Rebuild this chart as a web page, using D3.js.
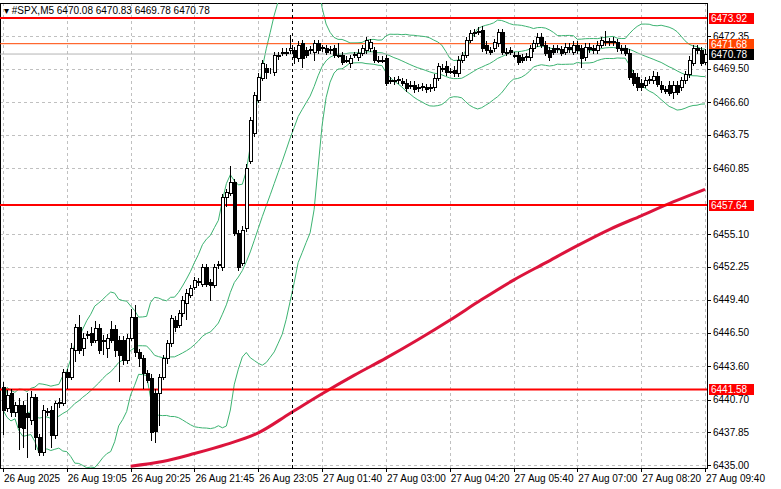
<!DOCTYPE html>
<html>
<head>
<meta charset="utf-8">
<script src="https://cdn.jsdelivr.net/npm/d3@7"></script>
<style>
  body { margin: 0; background: #fff; }
  svg { display: block; font-family: "Liberation Sans", Arial, sans-serif; }
</style>
</head>
<body>
<svg id="chart" width="781" height="489"></svg>
<script>
// OHLC candles, M5
const candles = [
  [6441.8,6442.2,6437.6,6439.8],[6440.0,6441.5,6439.6,6441.1],[6441.3,6441.6,6439.2,6439.6],[6439.6,6440.5,6439.2,6440.2],
  [6440.2,6440.8,6436.3,6438.3],[6440.2,6440.6,6436.5,6438.2],[6439.5,6441.3,6435.6,6439.2],[6438.9,6441.4,6438.5,6440.9],
  [6440.9,6441.2,6436.3,6437.4],[6437.4,6437.7,6435.8,6436.1],[6436.1,6440.2,6435.8,6439.8],[6439.7,6440.0,6439.3,6439.6],
  [6439.8,6440.1,6436.5,6437.6],[6437.6,6440.6,6437.3,6440.4],[6440.4,6440.8,6440.0,6440.5],[6440.4,6443.4,6440.1,6443.1],
  [6443.1,6443.4,6441.6,6442.7],[6442.7,6445.6,6442.4,6445.2],[6445.0,6447.3,6444.0,6447.0],[6447.0,6448.1,6444.7,6445.0],
  [6445.2,6446.5,6444.5,6446.1],[6446.3,6446.7,6446.0,6446.4],[6446.5,6447.0,6445.4,6445.7],[6445.9,6447.5,6445.6,6446.9],
  [6446.9,6447.3,6444.7,6445.0],[6445.9,6446.3,6444.6,6445.8],[6445.2,6446.4,6444.3,6446.1],[6446.8,6447.5,6445.6,6445.9],
  [6446.8,6447.2,6444.4,6445.0],[6445.9,6446.2,6442.2,6444.6],[6445.9,6446.2,6443.7,6444.1],[6444.1,6446.4,6443.8,6446.1],
  [6446.1,6448.6,6445.8,6447.9],[6447.9,6448.9,6444.4,6444.8],[6444.8,6445.1,6443.5,6444.3],[6444.3,6444.6,6441.6,6443.0],
  [6443.0,6443.3,6442.1,6442.4],[6442.6,6442.9,6437.1,6437.9],[6441.3,6441.6,6436.9,6438.0],[6441.3,6442.9,6438.4,6442.7],
  [6442.7,6444.6,6442.4,6444.3],[6444.3,6445.9,6443.8,6445.6],[6445.6,6448.1,6445.3,6447.8],[6447.6,6448.0,6446.6,6447.0],
  [6447.2,6448.5,6446.9,6448.2],[6448.2,6449.7,6447.9,6449.4],[6449.1,6450.3,6447.6,6450.0],[6449.8,6450.7,6449.5,6450.4],
  [6450.5,6451.4,6450.2,6451.1],[6450.9,6451.3,6450.6,6451.0],[6450.8,6452.5,6450.5,6452.2],[6452.2,6452.5,6450.5,6450.8],
  [6450.9,6451.2,6449.3,6450.7],[6450.7,6452.5,6450.4,6452.2],[6452.4,6452.8,6452.1,6452.5],[6452.2,6458.6,6451.9,6458.3],
  [6458.3,6459.0,6457.5,6458.8],[6458.7,6461.0,6458.4,6459.6],[6459.6,6459.9,6454.9,6455.2],[6455.2,6455.5,6451.9,6452.2],
  [6452.6,6455.8,6452.3,6455.5],[6455.6,6461.2,6455.3,6460.9],[6461.5,6465.3,6461.2,6465.0],[6463.9,6467.5,6463.6,6467.2],
  [6466.8,6469.1,6466.5,6468.8],[6468.7,6470.3,6468.4,6470.0],[6469.6,6469.9,6468.6,6469.2],[6469.3,6469.6,6469.0,6469.3],
  [6469.2,6471.0,6468.9,6470.7],[6470.6,6471.0,6470.3,6470.7],[6470.9,6471.3,6470.6,6471.0],[6470.9,6471.3,6470.6,6471.0],
  [6471.1,6472.4,6470.8,6471.3],[6471.1,6471.4,6469.9,6470.5],[6470.4,6471.9,6470.1,6471.6],[6471.7,6472.0,6469.6,6470.4],
  [6471.1,6471.4,6470.4,6470.7],[6471.1,6471.5,6470.8,6471.2],[6471.0,6472.0,6470.2,6471.7],[6471.7,6472.0,6470.8,6471.1],
  [6471.3,6471.6,6471.0,6471.4],[6471.3,6471.6,6470.7,6471.0],[6471.1,6471.5,6470.8,6471.2],[6471.3,6471.6,6470.4,6470.7],
  [6470.7,6471.7,6470.4,6470.6],[6470.7,6471.0,6469.8,6470.1],[6470.3,6470.6,6470.0,6470.2],[6470.0,6470.7,6469.6,6470.4],
  [6470.7,6471.0,6470.4,6470.8],[6470.5,6471.2,6470.2,6470.9],[6470.9,6471.6,6470.6,6471.3],[6471.1,6472.3,6470.8,6472.0],
  [6471.3,6472.1,6471.0,6471.8],[6471.1,6471.4,6470.0,6470.3],[6470.3,6470.6,6470.0,6470.2],[6470.3,6470.6,6470.0,6470.2],
  [6470.4,6470.7,6468.0,6468.3],[6468.5,6468.8,6468.2,6468.4],[6468.4,6468.8,6468.1,6468.5],[6468.5,6468.9,6468.2,6468.6],
  [6468.4,6468.7,6468.0,6468.3],[6468.3,6468.6,6467.5,6467.8],[6468.1,6468.4,6467.7,6468.0],[6468.1,6468.4,6467.4,6467.7],
  [6467.9,6468.2,6467.5,6467.8],[6467.9,6468.3,6467.6,6468.0],[6467.9,6468.2,6467.4,6467.7],[6467.8,6468.2,6467.5,6467.9],
  [6467.9,6469.0,6467.6,6468.7],[6468.7,6470.0,6468.4,6469.7],[6469.6,6469.9,6469.2,6469.5],[6469.7,6470.2,6468.9,6469.2],
  [6469.3,6469.6,6469.0,6469.2],[6469.4,6469.7,6468.8,6469.1],[6469.1,6470.6,6468.8,6470.3],[6470.3,6471.0,6470.0,6470.7],
  [6470.7,6472.3,6470.4,6472.0],[6472.0,6472.9,6471.7,6472.6],[6472.6,6473.0,6472.3,6472.7],[6472.7,6473.1,6472.4,6472.8],
  [6472.9,6473.2,6471.0,6471.3],[6471.6,6471.9,6470.8,6471.1],[6471.1,6471.4,6470.7,6471.0],[6471.3,6472.1,6471.0,6471.8],
  [6471.7,6473.0,6471.4,6472.7],[6472.7,6473.0,6470.7,6471.0],[6471.0,6471.3,6470.6,6470.9],[6471.1,6471.4,6470.7,6471.0],
  [6470.7,6471.0,6470.4,6470.6],[6470.7,6471.0,6469.8,6470.1],[6470.5,6470.8,6470.0,6470.3],[6470.5,6470.9,6470.2,6470.6],
  [6470.5,6471.6,6470.2,6471.3],[6471.3,6472.0,6471.0,6471.7],[6471.7,6472.6,6471.4,6472.3],[6472.3,6472.6,6471.3,6471.6],
  [6471.6,6471.9,6470.6,6470.9],[6471.1,6471.4,6470.2,6470.5],[6471.3,6471.6,6470.7,6471.0],[6471.3,6471.6,6470.9,6471.2],
  [6471.2,6471.5,6470.6,6470.9],[6471.0,6471.7,6470.7,6471.4],[6471.4,6471.7,6470.9,6471.2],[6471.0,6471.9,6470.7,6471.6],
  [6471.6,6471.9,6470.8,6471.1],[6471.3,6471.6,6469.6,6470.4],[6470.5,6471.7,6470.2,6471.4],[6471.4,6471.7,6470.9,6471.2],
  [6471.3,6471.6,6470.8,6471.1],[6471.1,6471.9,6470.8,6471.6],[6471.6,6472.3,6471.3,6472.0],[6471.8,6472.8,6471.5,6471.9],
  [6471.9,6472.2,6471.5,6471.8],[6471.8,6472.3,6471.5,6471.9],[6471.8,6472.1,6471.0,6471.3],[6471.3,6471.6,6470.8,6471.1],
  [6471.3,6471.6,6470.6,6470.9],[6470.9,6471.2,6468.5,6468.8],[6469.1,6469.4,6468.0,6468.3],[6468.8,6469.1,6467.6,6467.9],
  [6468.3,6468.6,6467.6,6467.9],[6468.1,6468.8,6467.8,6468.5],[6468.5,6468.9,6468.2,6468.6],[6468.5,6469.3,6468.2,6468.9],
  [6468.9,6469.2,6467.9,6468.2],[6468.1,6468.4,6467.4,6467.7],[6467.7,6468.0,6467.3,6467.6],[6468.1,6468.4,6467.1,6467.4],
  [6467.5,6468.4,6466.9,6468.1],[6468.1,6468.4,6467.2,6467.5],[6467.9,6468.8,6467.6,6468.5],[6468.5,6469.3,6468.2,6469.0],
  [6469.0,6470.6,6468.7,6470.3],[6470.0,6471.6,6469.7,6471.3],[6471.3,6471.6,6470.8,6471.1],[6471.1,6471.4,6469.7,6470.0],
  [6470.1,6471.2,6469.8,6470.78]
]

// slow moving average, sampled every 8 bars from bar 32
const maBars = [32, 40, 48, 56, 64, 72, 80, 88, 96, 104, 112, 120, 128, 136, 144, 152, 160, 168, 176]
const maValues = [6434.9, 6435.3, 6436.0, 6436.8, 6437.8, 6439.5, 6441.2, 6442.8, 6444.3, 6445.9, 6447.6, 6449.4, 6451.1, 6452.6, 6454.1, 6455.5, 6456.7, 6457.9, 6459.0]

const yTicks = [6472.35, 6469.50, 6466.60, 6463.75, 6460.85, 6455.10, 6452.25, 6449.40, 6446.50, 6443.60, 6440.70, 6437.85, 6435.00]
const xTickBars = [0, 16, 32, 48, 64, 80, 96, 112, 128, 144, 160, 176]
const xTickLabels = ["26 Aug 2025", "26 Aug 19:05", "26 Aug 20:25", "26 Aug 21:45", "26 Aug 23:05", "27 Aug 01:40",
  "27 Aug 03:00", "27 Aug 04:20", "27 Aug 05:40", "27 Aug 07:00", "27 Aug 08:20", "27 Aug 09:40"]

const levels = [
  { price: 6473.92, color: "#ff0000", width: 2 },
  { price: 6457.64, color: "#ff0000", width: 2 },
  { price: 6441.58, color: "#ff0000", width: 2 }
]
const resistance = 6471.68
const lastPrice = 6470.78
const separatorBar = 72.5

const svg = d3.select("#chart")
const pLeft = 0, pRight = 707, pTop = 3, pBottom = 468

const x = d3.scaleLinear().domain([0, 176]).range([3, 705])
const y = d3.scaleLinear().domain([6435, 6472.35]).range([465, 36])

const root = svg.append("g").attr("shape-rendering", "crispEdges")

// grid
root.selectAll(".hgrid").data(yTicks).join("line")
  .attr("x1", pLeft).attr("x2", pRight)
  .attr("y1", d => Math.round(y(d)) + 0.5).attr("y2", d => Math.round(y(d)) + 0.5)
  .attr("stroke", "#c0c0c0").attr("stroke-dasharray", "3,3")
root.selectAll(".vgrid").data(xTickBars).join("line")
  .attr("x1", d => Math.round(x(d)) + 0.5).attr("x2", d => Math.round(x(d)) + 0.5)
  .attr("y1", pTop).attr("y2", pBottom)
  .attr("stroke", "#c0c0c0").attr("stroke-dasharray", "3,3")

const clip = svg.append("clipPath").attr("id", "plot")
clip.append("rect").attr("x", pLeft).attr("y", pTop).attr("width", pRight - pLeft).attr("height", pBottom - pTop)
const plot = svg.append("g").attr("clip-path", "url(#plot)")

// bollinger bands (20, 2) on closes
const closes = candles.map(d => d[3])
const bands = closes.map(function (c, i) {
  const win = closes.slice(Math.max(0, i - 19), i + 1)
  const mean = d3.mean(win)
  const sd = Math.sqrt(d3.mean(win, v => (v - mean) * (v - mean)))
  return { i: i, mid: mean, up: mean + 2 * sd, lo: mean - 2 * sd }
})
;["up", "mid", "lo"].forEach(function (key) {
  plot.append("path").datum(bands)
    .attr("fill", "none").attr("stroke", "#3cb371").attr("stroke-width", 1)
    .attr("d", d3.line().x(d => x(d.i)).y(d => y(d[key])))
})

// slow MA
plot.append("path").datum(maBars.map((b, i) => [b, maValues[i]]))
  .attr("fill", "none").attr("stroke", "#dc143c").attr("stroke-width", 3)
  .attr("d", d3.line().x(d => x(d[0])).y(d => y(d[1])).curve(d3.curveMonotoneX))

// level lines
plot.append("line").attr("x1", pLeft).attr("x2", pRight)
  .attr("y1", y(lastPrice)).attr("y2", y(lastPrice)).attr("stroke", "#b4b4b4")
plot.append("line").attr("x1", pLeft).attr("x2", pRight)
  .attr("y1", y(resistance)).attr("y2", y(resistance)).attr("stroke", "#ff4500")
plot.selectAll(".lvl").data(levels).join("line")
  .attr("x1", pLeft).attr("x2", pRight)
  .attr("y1", d => y(d.price)).attr("y2", d => y(d.price))
  .attr("stroke", d => d.color).attr("stroke-width", d => d.width)

// separator
plot.append("line").attr("x1", Math.round(x(separatorBar)) + 0.5).attr("x2", Math.round(x(separatorBar)) + 0.5)
  .attr("y1", pTop).attr("y2", pBottom).attr("stroke", "#000").attr("stroke-dasharray", "3,3")

// candles
const cg = plot.append("g").attr("shape-rendering", "crispEdges")
candles.forEach(function (d, i) {
  const cx = Math.round(x(i)) + 0.5
  const up = d[3] >= d[0]
  cg.append("line").attr("x1", cx).attr("x2", cx)
    .attr("y1", y(d[1])).attr("y2", y(d[2])).attr("stroke", "#000")
  const yt = Math.round(y(Math.max(d[0], d[3])))
  const yb = Math.round(y(Math.min(d[0], d[3])))
  cg.append("rect").attr("x", cx - 1.5).attr("y", yt + 0.5)
    .attr("width", 3).attr("height", Math.max(0, yb - yt))
    .attr("fill", up ? "#fff" : "#000").attr("stroke", "#000")
})

// frame
root.append("rect").attr("x", pLeft + 0.5).attr("y", pTop + 0.5)
  .attr("width", pRight - pLeft).attr("height", pBottom - pTop)
  .attr("fill", "none").attr("stroke", "#000")

// y axis
const ya = svg.append("g")
ya.selectAll("line").data(yTicks).join("line")
  .attr("x1", pRight).attr("x2", pRight + 4)
  .attr("y1", d => Math.round(y(d)) + 0.5).attr("y2", d => Math.round(y(d)) + 0.5)
  .attr("stroke", "#000").attr("shape-rendering", "crispEdges")
ya.selectAll("text").data(yTicks).join("text")
  .attr("x", 713).attr("y", d => y(d) + 3.5)
  .attr("font-size", 10).attr("fill", "#000")
  .text(d => d.toFixed(2))

// price labels
const tags = levels.map(d => ({ price: d.price, bg: "#ff0000", fg: "#fff" }))
  .concat([{ price: resistance, bg: "#ff4500", fg: "#fff" }, { price: lastPrice, bg: "#000", fg: "#fff" }])
const tg = svg.selectAll(".tag").data(tags).join("g")
tg.append("rect").attr("x", 709).attr("y", d => Math.round(y(d.price)) - 5)
  .attr("width", 45).attr("height", 11).attr("fill", d => d.bg)
tg.append("text").attr("x", 711).attr("y", d => Math.round(y(d.price)) + 4)
  .attr("font-size", 10).attr("fill", d => d.fg).text(d => d.price.toFixed(2))

// x axis
const xa = svg.append("g")
xa.selectAll("line").data(xTickBars).join("line")
  .attr("x1", d => Math.round(x(d)) + 0.5).attr("x2", d => Math.round(x(d)) + 0.5)
  .attr("y1", pBottom).attr("y2", pBottom + 4).attr("stroke", "#000").attr("shape-rendering", "crispEdges")
xa.selectAll("text").data(xTickBars).join("text")
  .attr("x", d => x(d) + 1).attr("y", 482)
  .attr("font-size", 10).attr("fill", "#000")
  .text((d, i) => xTickLabels[i])

// title
svg.append("text").attr("x", 4).attr("y", 14).attr("font-size", 10).attr("fill", "#000")
  .text("▾ #SPX,M5  6470.08 6470.83 6469.78 6470.78")
</script>
</body>
</html>
